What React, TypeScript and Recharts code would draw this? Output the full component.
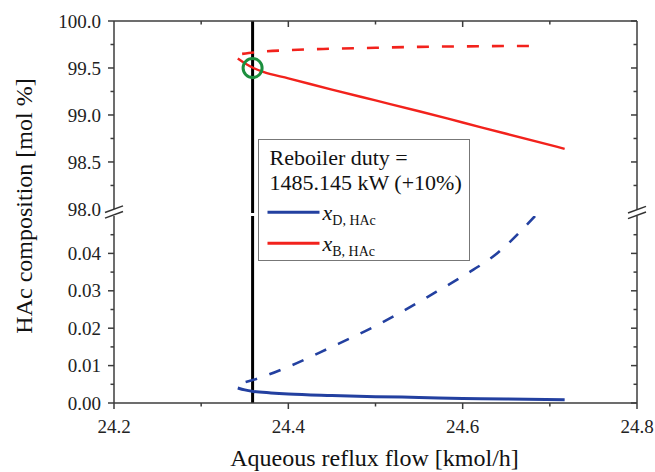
import React from 'react';
import {
  LineChart,
  Line,
  XAxis,
  YAxis,
  ReferenceLine,
  ReferenceDot,
  Legend,
} from 'recharts';

// ---- data ----------------------------------------------------------------
// Aqueous reflux flow [kmol/h] vs HAc composition [mol %]

// bottoms HAc, solid branch
const xbSolidFlow = [24.342, 24.35, 24.36, 24.372, 24.4, 24.45, 24.5, 24.55, 24.6, 24.65, 24.717];
const xbSolidComp = [99.6, 99.55, 99.5, 99.455, 99.39, 99.27, 99.155, 99.04, 98.92, 98.8, 98.64];

// bottoms HAc, dashed branch
const xbDashFlow = [24.347, 24.36, 24.4, 24.45, 24.5, 24.55, 24.6, 24.683];
const xbDashComp = [99.65, 99.665, 99.69, 99.705, 99.715, 99.725, 99.73, 99.735];

// distillate HAc, solid branch
const xdSolidFlow = [24.342, 24.35, 24.36, 24.38, 24.4, 24.45, 24.5, 24.55, 24.6, 24.65, 24.717];
const xdSolidComp = [0.004, 0.0035, 0.0031, 0.0027, 0.0024, 0.002, 0.0017, 0.0015, 0.0012, 0.0011, 0.0009];

// distillate HAc, dashed branch
const xdDashFlow = [24.351, 24.36, 24.4, 24.447, 24.5, 24.528, 24.56, 24.6, 24.64, 24.683];
const xdDashComp = [0.0056, 0.0062, 0.0097, 0.0147, 0.0206, 0.0241, 0.0284, 0.0339, 0.0401, 0.05];

// operating point
const opFlow = 24.359;
const opComp = 99.5;

// axes
const flowTicks = [24.2, 24.3, 24.4, 24.5, 24.6, 24.7, 24.8];
const upperTicks = [98.0, 98.25, 98.5, 98.75, 99.0, 99.25, 99.5, 99.75, 100.0];
const lowerTicks = [0, 0.005, 0.01, 0.015, 0.02, 0.025, 0.03, 0.035, 0.04, 0.045];

const legendTitle = ['Reboiler duty =', '1485.145 kW (+10%)'];
const legendMain = ['x', 'x'];
const legendSub = ['D, HAc', 'B, HAc'];

const yTitle = 'HAc composition [mol %]';
const xTitle = 'Aqueous reflux flow [kmol/h]';

// ---- styling / layout -----------------------------------------------------
const FONT = '"Liberation Serif", "Times New Roman", Times, serif';
const RED = '#f2221c';
const BLUE = '#2340a0';
const GREEN = '#1c8f3e';
const AXIS = '#3c3c3c';
const W = 655;
const H = 472;
const PLOT_LEFT = 114;
const PLOT_RIGHT = 637;
const UPPER_TOP = 21;
const UPPER_BOTTOM = 213;
const LOWER_TOP = 216;
const LOWER_BOTTOM = 403;
const DASH = '12 13';
const TICK_FONT = 19;

const toPoints = (xs: number[], ys: number[]) => xs.map((x, i) => ({ x, y: ys[i] }));

const xbSolid = toPoints(xbSolidFlow, xbSolidComp);
const xbDash = toPoints(xbDashFlow, xbDashComp);
const xdSolid = toPoints(xdSolidFlow, xdSolidComp);
const xdDash = toPoints(xdDashFlow, xdDashComp);

const near = (v: number, step: number) => Math.abs(v / step - Math.round(v / step)) < 1e-6;

// ---- tick renderers -------------------------------------------------------
const leftTick =
  (isMajor: (v: number) => boolean, fmt: (v: number) => string, hasLine: (v: number) => boolean) =>
  (p: any) => {
    const v = p.payload.value as number;
    const major = isMajor(v);
    return (
      <g>
        {hasLine(v) && (
          <line x1={p.x} x2={p.x - (major ? 6 : 3.5)} y1={p.y} y2={p.y} stroke={AXIS} strokeWidth={1.5} />
        )}
        {major && (
          <text x={p.x - 13} y={p.y} dy="0.35em" textAnchor="end" fontSize={TICK_FONT} fontFamily={FONT} fill="#222">
            {fmt(v)}
          </text>
        )}
      </g>
    );
  };

const rightTick =
  (isMajor: (v: number) => boolean, hasLine: (v: number) => boolean) =>
  (p: any) => {
    const v = p.payload.value as number;
    if (!hasLine(v)) return <g />;
    const major = isMajor(v);
    return (
      <g>
        <line x1={p.x} x2={p.x - (major ? 6 : 3.5)} y1={p.y} y2={p.y} stroke={AXIS} strokeWidth={1.5} />
      </g>
    );
  };

const bottomTick = (p: any) => {
  const v = p.payload.value as number;
  const major = near(v, 0.2);
  return (
    <g>
      <line x1={p.x} x2={p.x} y1={p.y} y2={p.y + (major ? 6 : 3.5)} stroke={AXIS} strokeWidth={1.5} />
      {major && (
        <text x={p.x} y={p.y + 23.5} dy="0.35em" textAnchor="middle" fontSize={TICK_FONT} fontFamily={FONT} fill="#222">
          {v.toFixed(1)}
        </text>
      )}
    </g>
  );
};

const topTick = (p: any) => {
  const v = p.payload.value as number;
  if (v <= 24.2 + 1e-9 || v >= 24.8 - 1e-9) return <g />;
  const major = near(v, 0.2);
  return (
    <g>
      <line x1={p.x} x2={p.x} y1={p.y} y2={p.y + (major ? 6 : 3.5)} stroke={AXIS} strokeWidth={1.5} />
    </g>
  );
};

// ---- legend ---------------------------------------------------------------
const legendColors = [BLUE, RED];

const LegendBox = () => (
  <div
    style={{
      width: 212,
      height: 122,
      border: '1.5px solid #777',
      background: '#fff',
      boxSizing: 'border-box',
    }}
  >
    <svg width={209} height={119} style={{ display: 'block' }}>
      {legendTitle.map((t, i) => (
        <text key={t} x={10.5} y={25 + i * 24.5} fontSize={22} fontFamily={FONT} fill="#111">
          {t}
        </text>
      ))}
      {legendMain.map((m, i) => (
        <g key={i}>
          <line x1={8.5} x2={60.5} y1={72.2 + i * 31} y2={72.2 + i * 31} stroke={legendColors[i]} strokeWidth={3} />
          <text x={63.5} y={79.5 + i * 31} fontSize={22} fontStyle="italic" fontFamily={FONT} fill="#111">
            {m}
            <tspan dy={5.5} fontSize={14} fontStyle="normal">
              {legendSub[i]}
            </tspan>
          </text>
        </g>
      ))}
    </svg>
  </div>
);

// ---- axis break marks -----------------------------------------------------
const BreakMark = ({ cx, cy }: { cx: number; cy: number }) => {
  const dx = 9;
  const dy = 3.3;
  const off = 2.8;
  return (
    <g>
      <polygon
        points={`${cx - dx},${cy + dy - off} ${cx + dx},${cy - dy - off} ${cx + dx},${cy - dy + off} ${cx - dx},${cy + dy + off}`}
        fill="#fff"
      />
      <line x1={cx - dx} y1={cy + dy - off} x2={cx + dx} y2={cy - dy - off} stroke="#333" strokeWidth={1.5} />
      <line x1={cx - dx} y1={cy + dy + off} x2={cx + dx} y2={cy - dy + off} stroke="#333" strokeWidth={1.5} />
    </g>
  );
};

// ---- chart ----------------------------------------------------------------
const layer: React.CSSProperties = { position: 'absolute', left: 0, top: 0 };

export default function App() {
  const axisLine = { stroke: AXIS, strokeWidth: 1.5 };
  return (
    <div style={{ position: 'absolute', left: 0, top: 0, width: W, height: H, background: '#fff', fontFamily: FONT }}>
      {/* upper panel: 98 - 100 mol % */}
      <div style={layer}>
        <LineChart
          width={W}
          height={H}
          margin={{ top: UPPER_TOP - 5, right: W - PLOT_RIGHT - 5, bottom: H - UPPER_BOTTOM, left: PLOT_LEFT - 40 }}
        >
          <XAxis
            xAxisId="t"
            orientation="top"
            dataKey="x"
            type="number"
            domain={[24.2, 24.8]}
            ticks={flowTicks}
            interval={0}
            allowDataOverflow
            height={5}
            tickSize={0}
            tickMargin={0}
            tickLine={false}
            axisLine={axisLine}
            tick={topTick}
          />
          <YAxis
            yAxisId="l"
            type="number"
            domain={[97.957, 100]}
            ticks={upperTicks}
            interval={0}
            allowDataOverflow
            width={40}
            tickSize={0}
            tickMargin={0}
            tickLine={false}
            axisLine={axisLine}
            tick={leftTick((v) => near(v, 0.5), (v) => v.toFixed(1), (v) => v > 98.01)}
          />
          <YAxis
            yAxisId="r"
            orientation="right"
            type="number"
            domain={[97.957, 100]}
            ticks={upperTicks}
            interval={0}
            allowDataOverflow
            width={5}
            tickSize={0}
            tickMargin={0}
            tickLine={false}
            axisLine={axisLine}
            tick={rightTick((v) => near(v, 0.5), (v) => v > 98.01)}
          />
          <ReferenceLine xAxisId="t" yAxisId="l" x={opFlow} stroke="#000" strokeWidth={3} />
          <Line
            xAxisId="t"
            yAxisId="l"
            data={xbDash}
            dataKey="y"
            type="monotone"
            stroke={RED}
            strokeWidth={2.6}
            strokeDasharray={DASH}
            dot={false}
            isAnimationActive={false}
          />
          <Line
            xAxisId="t"
            yAxisId="l"
            data={xbSolid}
            dataKey="y"
            type="monotone"
            stroke={RED}
            strokeWidth={2.4}
            dot={false}
            isAnimationActive={false}
          />
          <ReferenceDot
            xAxisId="t"
            yAxisId="l"
            x={opFlow}
            y={opComp}
            r={9.5}
            fill="none"
            stroke={GREEN}
            strokeWidth={3}
          />
        </LineChart>
      </div>

      {/* lower panel: 0 - 0.05 mol % */}
      <div style={layer}>
        <LineChart
          width={W}
          height={H}
          margin={{ top: LOWER_TOP, right: W - PLOT_RIGHT - 5, bottom: H - LOWER_BOTTOM - 30, left: PLOT_LEFT - 40 }}
        >
          <XAxis
            dataKey="x"
            type="number"
            domain={[24.2, 24.8]}
            ticks={flowTicks}
            interval={0}
            allowDataOverflow
            height={30}
            tickSize={0}
            tickMargin={0}
            tickLine={false}
            axisLine={axisLine}
            tick={bottomTick}
          />
          <YAxis
            yAxisId="l"
            type="number"
            domain={[0, 0.05]}
            ticks={lowerTicks}
            interval={0}
            allowDataOverflow
            width={40}
            tickSize={0}
            tickMargin={0}
            tickLine={false}
            axisLine={axisLine}
            tick={leftTick((v) => near(v, 0.01), (v) => v.toFixed(2), () => true)}
          />
          <YAxis
            yAxisId="r"
            orientation="right"
            type="number"
            domain={[0, 0.05]}
            ticks={lowerTicks}
            interval={0}
            allowDataOverflow
            width={5}
            tickSize={0}
            tickMargin={0}
            tickLine={false}
            axisLine={axisLine}
            tick={rightTick((v) => near(v, 0.01), () => true)}
          />
          <ReferenceLine yAxisId="l" x={opFlow} stroke="#000" strokeWidth={3} />
          <Line
            yAxisId="l"
            data={xdDash}
            dataKey="y"
            type="monotone"
            stroke={BLUE}
            strokeWidth={2.6}
            strokeDasharray={DASH}
            dot={false}
            isAnimationActive={false}
          />
          <Line
            yAxisId="l"
            data={xdSolid}
            dataKey="y"
            type="monotone"
            stroke={BLUE}
            strokeWidth={3}
            dot={false}
            isAnimationActive={false}
          />
          <Legend
            layout="vertical"
            align="center"
            verticalAlign="middle"
            content={() => <LegendBox />}
            wrapperStyle={{ left: 258, top: 139, width: 212, height: 122 }}
          />
        </LineChart>
      </div>

      {/* axis titles and break marks */}
      <svg width={W} height={H} style={{ ...layer, pointerEvents: 'none' }}>
        <BreakMark cx={PLOT_LEFT} cy={212} />
        <BreakMark cx={PLOT_RIGHT} cy={212.5} />
        <text
          x={24}
          y={206}
          transform="rotate(-90 24 206)"
          textAnchor="middle"
          dy="0.35em"
          fontSize={24}
          fontFamily={FONT}
          fill="#111"
        >
          {yTitle}
        </text>
        <text x={374.5} y={466} textAnchor="middle" fontSize={24} fontFamily={FONT} fill="#111">
          {xTitle}
        </text>
      </svg>
    </div>
  );
}
